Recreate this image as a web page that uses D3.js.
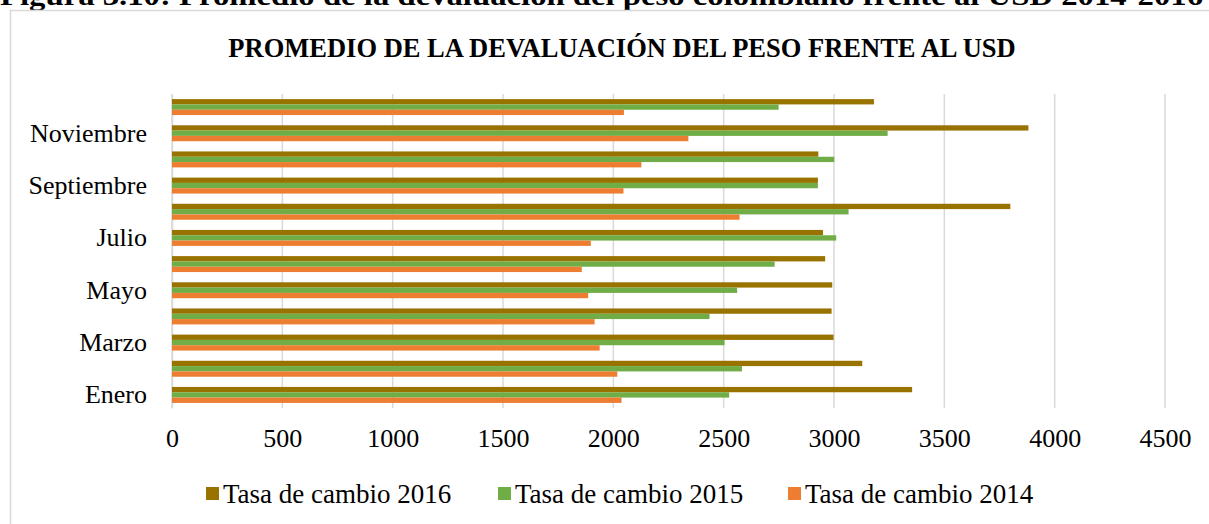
<!DOCTYPE html>
<html>
<head>
<meta charset="utf-8">
<script src="https://cdn.jsdelivr.net/npm/d3@7"></script>
<style>
  body { margin: 0; background: #fff; }
  text { font-family: "Liberation Serif", "Times New Roman", serif; }
</style>
</head>
<body>
<div id="chart"></div>
<script>
// Data
const months = ["Enero", "Febrero", "Marzo", "Abril", "Mayo", "Junio", "Julio",
  "Agosto", "Septiembre", "Octubre", "Noviembre", "Diciembre"];
const tasa2016 = [3354, 3128, 2998, 2989, 2992, 2960, 2950, 3799, 2927, 2929, 3881, 3181];
const tasa2015 = [2525, 2583, 2504, 2436, 2561, 2731, 3010, 3066, 2927, 3001, 3243, 2749];
const tasa2014 = [2037, 2018, 1938, 1915, 1886, 1857, 1898, 2572, 2046, 2127, 2340, 2048];
const xTicks = [0, 500, 1000, 1500, 2000, 2500, 3000, 3500, 4000, 4500];
const seriesNames = ["Tasa de cambio 2016", "Tasa de cambio 2015", "Tasa de cambio 2014"];
const seriesColors = ["#997300", "#70ad47", "#ed7d31"];

const series = [tasa2016, tasa2015, tasa2014];
const rows = months.map((m, i) => ({ month: m, values: series.map(s => s[i]) }));

const width = 1209, height = 524;
const svg = d3.select("#chart").append("svg")
  .attr("width", width)
  .attr("height", height);

// figure caption, cut off at the top
svg.append("text")
  .attr("x", 0)
  .attr("y", 5)
  .attr("font-size", 27)
  .attr("font-weight", "bold")
  .attr("textLength", 1203)
  .attr("lengthAdjust", "spacingAndGlyphs")
  .text("Figura 3.10: Promedio de la devaluación del peso colombiano frente al USD 2014-2016");

// chart frame
svg.append("rect")
  .attr("x", 10.5).attr("y", 10.5)
  .attr("width", 1300).attr("height", 600)
  .attr("fill", "none")
  .attr("stroke", "#d9d9d9")
  .attr("stroke-width", 1.5);

svg.append("text")
  .attr("x", 622)
  .attr("y", 57)
  .attr("text-anchor", "middle")
  .attr("font-size", 26.5)
  .attr("font-weight", "bold")
  .text("PROMEDIO DE LA DEVALUACIÓN DEL PESO FRENTE AL USD");

// plot area
const plot = { left: 172, right: 1165, top: 94, bottom: 408 };

const x = d3.scaleLinear().domain([0, 4500]).range([plot.left, plot.right]);
// Enero at the bottom
const y = d3.scaleBand()
  .domain(months.slice().reverse())
  .range([plot.top, plot.bottom])
  .paddingInner(0.39)
  .paddingOuter(0.195);
const ySub = d3.scaleBand()
  .domain(d3.range(series.length))
  .range([0, y.bandwidth()]);

// gridlines
svg.append("g")
  .selectAll("line")
  .data(xTicks)
  .join("line")
  .attr("x1", d => x(d)).attr("x2", d => x(d))
  .attr("y1", plot.top).attr("y2", plot.bottom)
  .attr("stroke", "#d9d9d9")
  .attr("stroke-width", 1.5);

// x axis labels
const xAxis = svg.append("g")
  .attr("transform", `translate(0, ${plot.bottom})`)
  .call(d3.axisBottom(x).tickValues(xTicks).tickSize(0).tickPadding(21).tickFormat(d3.format("d")));
xAxis.select(".domain").remove();
xAxis.selectAll("text")
  .attr("font-size", 26)
  .attr("fill", "#000")
  .attr("font-family", "Liberation Serif, serif");

// y axis labels (every other month)
const yAxis = svg.append("g")
  .attr("transform", `translate(${plot.left}, 0)`)
  .call(d3.axisLeft(y).tickSize(0).tickPadding(25)
    .tickFormat(d => (months.indexOf(d) % 2 === 0 ? d : "")));
yAxis.select(".domain").attr("stroke", "#d9d9d9").attr("stroke-width", 1.5);
yAxis.selectAll("text")
  .attr("font-size", 26)
  .attr("fill", "#000")
  .attr("font-family", "Liberation Serif, serif");

// bars
const groups = svg.append("g")
  .selectAll("g")
  .data(rows)
  .join("g")
  .attr("transform", d => `translate(0, ${y(d.month)})`);

groups.selectAll("rect")
  .data(d => d.values)
  .join("rect")
  .attr("x", x(0))
  .attr("y", (d, i) => ySub(i))
  .attr("width", d => x(d) - x(0))
  .attr("height", ySub.bandwidth())
  .attr("fill", (d, i) => seriesColors[i]);

// legend
const legendX = [206, 498, 788];
const legend = svg.append("g")
  .selectAll("g")
  .data(seriesNames)
  .join("g")
  .attr("transform", (d, i) => `translate(${legendX[i]}, 503)`);

legend.append("rect")
  .attr("x", 0).attr("y", -16)
  .attr("width", 13).attr("height", 13)
  .attr("fill", (d, i) => seriesColors[i]);

legend.append("text")
  .attr("x", 17)
  .attr("y", 0)
  .attr("font-size", 27)
  .text(d => d);
</script>
</body>
</html>
